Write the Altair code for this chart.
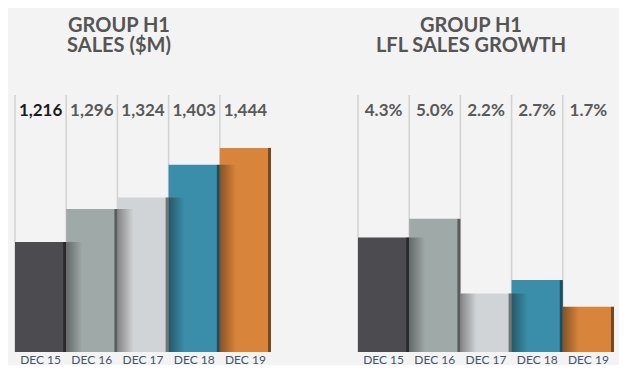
import altair as alt
import pandas as pd

cats = ["DEC 15", "DEC 16", "DEC 17", "DEC 18", "DEC 19"]
colors = ["#4b4b50", "#9fa9a8", "#d1d4d6", "#3b8ea9", "#d8843b"]

sales = [1216, 1296, 1324, 1403, 1444]
sales_labels = ["1,216", "1,296", "1,324", "1,403", "1,444"]
sales_label_colors = ["#1a1a1a", "#595959", "#595959", "#595959", "#595959"]

lfl = [4.3, 5.0, 2.2, 2.7, 1.7]
lfl_labels = ["4.3%", "5.0%", "2.2%", "2.7%", "1.7%"]
lfl_label_colors = ["#595959"] * 5

W = 256
H = 257
FONT = "Lato"


def make_df(values, labels, lcolors):
    shadow = [None] + [min(values[i - 1], values[i]) for i in range(1, len(values))]
    return pd.DataFrame({
        "cat": cats,
        "value": values,
        "label": labels,
        "lc": lcolors,
        "shadow": shadow,
    })


shadow_fill = alt.Gradient(
    gradient="linear",
    stops=[
        alt.GradientStop(color="rgba(0,0,0,0.38)", offset=0),
        alt.GradientStop(color="rgba(0,0,0,0.0)", offset=1),
    ],
    x1=0, x2=1, y1=0, y2=0,
)


def panel(df, domain, title_lines, title_dx):
    xs = alt.X("cat:N", sort=cats,
               scale=alt.Scale(paddingInner=0, paddingOuter=0),
               axis=alt.Axis(title=None, labelAngle=0, ticks=False, domain=False,
                             bandPosition=0.5, labelAlign="center",
                             labelFont=FONT, labelFontSize=12, labelColor="#44546a",
                             labelPadding=7))
    ys = alt.Y("value:Q", scale=alt.Scale(domain=domain, zero=False, nice=False),
               axis=None)
    base = alt.Chart(df)
    band = W / len(cats)

    rules = base.mark_rule(color="#d2d2d2", strokeWidth=1.5, xOffset=-band / 2).encode(
        x=alt.X("cat:N", sort=cats),
        y=alt.value(0),
        y2=alt.value(H),
    )
    bars = base.mark_bar(strokeWidth=0).encode(
        x=xs,
        y=ys,
        y2=alt.datum(domain[0]),
        color=alt.Color("cat:N", sort=cats,
                        scale=alt.Scale(domain=cats, range=colors), legend=None),
    )
    edge = base.mark_bar(width=3, xOffset=band / 2 - 1.5, color="black",
                         opacity=0.45).encode(
        x=alt.X("cat:N", sort=cats),
        y=alt.Y("value:Q"),
        y2=alt.datum(domain[0]),
    )
    shade = base.transform_filter("isValid(datum.shadow)").mark_bar(
        width=16, xOffset=-band / 2 + 8, color=shadow_fill).encode(
        x=alt.X("cat:N", sort=cats),
        y=alt.Y("shadow:Q"),
        y2=alt.datum(domain[0]),
    )
    text = base.mark_text(font=FONT, fontSize=17, fontWeight="bold",
                          baseline="alphabetic", align="center").encode(
        x=alt.X("cat:N", sort=cats),
        y=alt.value(21),
        text="label:N",
        color=alt.Color("lc:N", scale=None),
    )
    return alt.layer(rules, bars, shade, edge, text).resolve_scale(
        color="independent").properties(
        width=W, height=H,
        title=alt.TitleParams(text=title_lines, anchor="middle", dx=title_dx,
                              font=FONT, fontSize=20, fontWeight="bold",
                              color="#555555", lineHeight=20, offset=38),
    )


left = panel(make_df(sales, sales_labels, sales_label_colors), [950, 1572],
             ["GROUP H1", "SALES ($M)"], -24)
right = panel(make_df(lfl, lfl_labels, lfl_label_colors), [0, 9.65],
              ["GROUP H1", "LFL SALES GROWTH"], -15)

chart = alt.hconcat(left, right, spacing=86).properties(
    background="#f3f3f3",
    padding={"left": 6, "top": 8, "right": 5, "bottom": 0},
).configure_view(stroke=None)

chart.save("out.html", embed_options={"renderer": "svg", "actions": False})
